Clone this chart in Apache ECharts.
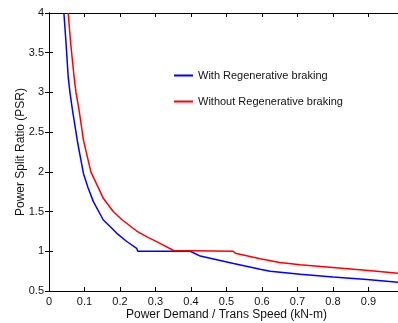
<!DOCTYPE html>
<html>
<head>
<meta charset="utf-8">
<script src="https://cdn.jsdelivr.net/npm/echarts@6/dist/echarts.min.js"></script>
<style>html,body{margin:0;padding:0;background:#fff}#c{width:398px;height:323px}</style>
</head>
<body>
<div id="c"></div>
<script>
const xTicks = [0, 0.1, 0.2, 0.3, 0.4, 0.5, 0.6, 0.7, 0.8, 0.9, 1];
const yTicks = [0.5, 1, 1.5, 2, 2.5, 3, 3.5, 4];

const withRegenX = [0.042, 0.048, 0.054, 0.059, 0.066, 0.076, 0.081, 0.097, 0.110, 0.125, 0.153, 0.175, 0.191, 0.220, 0.247, 0.250, 0.398, 0.400, 0.426, 0.520, 0.595, 0.623, 0.708, 0.800, 0.896, 0.984];
const withRegenY = [4.0, 3.62, 3.2, 3.0, 2.78, 2.5, 2.36, 1.98, 1.80, 1.625, 1.394, 1.30, 1.226, 1.12, 1.037, 1.0, 1.0, 0.975, 0.94, 0.845, 0.775, 0.75, 0.71, 0.675, 0.645, 0.61];

const withoutRegenX = [0.054, 0.061, 0.0705, 0.076, 0.0846, 0.097, 0.118, 0.153, 0.181, 0.205, 0.247, 0.275, 0.313, 0.351, 0.519, 0.525, 0.595, 0.650, 0.708, 0.800, 0.900, 0.984];
const withoutRegenY = [4.0, 3.62, 3.2, 3.0, 2.78, 2.40, 2.0, 1.667, 1.5, 1.40, 1.255, 1.185, 1.10, 1.01, 1.0, 0.975, 0.905, 0.86, 0.83, 0.796, 0.758, 0.723];

const zip = (xs, ys) => xs.map((x, i) => [x, ys[i]]);
const font = 'Liberation Sans, Arial, sans-serif';
const txt = '#111';

const chart = echarts.init(document.getElementById('c'), null, {renderer: 'canvas'});
const axisCommon = {
  axisLine: {show: true, lineStyle: {color: '#000', width: 1}},
  axisTick: {show: true, inside: true, length: 4, lineStyle: {color: '#000'}},
  splitLine: {show: false}
};
chart.setOption({
  animation: false,
  backgroundColor: '#fff',
  grid: {left: 49, top: 13, width: 355, height: 278, containLabel: false, outerBoundsMode: 'none'},
  legend: {
    orient: 'vertical', left: 174, top: 70, itemGap: 15, padding: 0,
    itemWidth: 19, itemHeight: 2, icon: 'rect',
    textStyle: {fontFamily: font, fontSize: 11, color: txt},
    data: ['With Regenerative braking', 'Without Regenerative braking']
  },
  xAxis: [
    Object.assign({
      type: 'value', min: xTicks[0], max: xTicks[xTicks.length - 1], interval: 0.1,
      name: 'Power Demand / Trans Speed (kN-m)', nameLocation: 'middle', nameGap: 18,
      nameMoveOverlap: false,
      nameTextStyle: {fontFamily: font, fontSize: 12, color: txt},
      axisLabel: {fontFamily: font, fontSize: 11, color: txt, margin: 5,
        formatter: v => xTicks.some(t => Math.abs(t - v) < 1e-9) ? (Math.round(v * 10) / 10).toString() : ''}
    }, axisCommon),
    Object.assign({
      type: 'value', position: 'top', min: xTicks[0], max: xTicks[xTicks.length - 1], interval: 0.1,
      axisLabel: {show: false}
    }, axisCommon)
  ],
  yAxis: [
    Object.assign({
      type: 'value', min: yTicks[0], max: yTicks[yTicks.length - 1], interval: 0.5,
      name: 'Power Split Ratio (PSR)', nameLocation: 'middle', nameGap: 22,
      nameMoveOverlap: false,
      nameTextStyle: {fontFamily: font, fontSize: 12, color: txt},
      axisLabel: {fontFamily: font, fontSize: 11, color: txt, margin: 5,
        formatter: v => String(v)}
    }, axisCommon),
    Object.assign({
      type: 'value', position: 'right', min: yTicks[0], max: yTicks[yTicks.length - 1], interval: 0.5,
      axisLabel: {show: false}
    }, axisCommon)
  ],
  series: [
    {name: 'With Regenerative braking', type: 'line', data: zip(withRegenX, withRegenY),
     symbol: 'none', lineStyle: {color: '#0000ff', width: 1.5}, itemStyle: {color: '#0000ff'}},
    {name: 'Without Regenerative braking', type: 'line', data: zip(withoutRegenX, withoutRegenY),
     symbol: 'none', lineStyle: {color: '#ff0000', width: 1.5}, itemStyle: {color: '#ff0000'}}
  ]
});
</script>
</body>
</html>
